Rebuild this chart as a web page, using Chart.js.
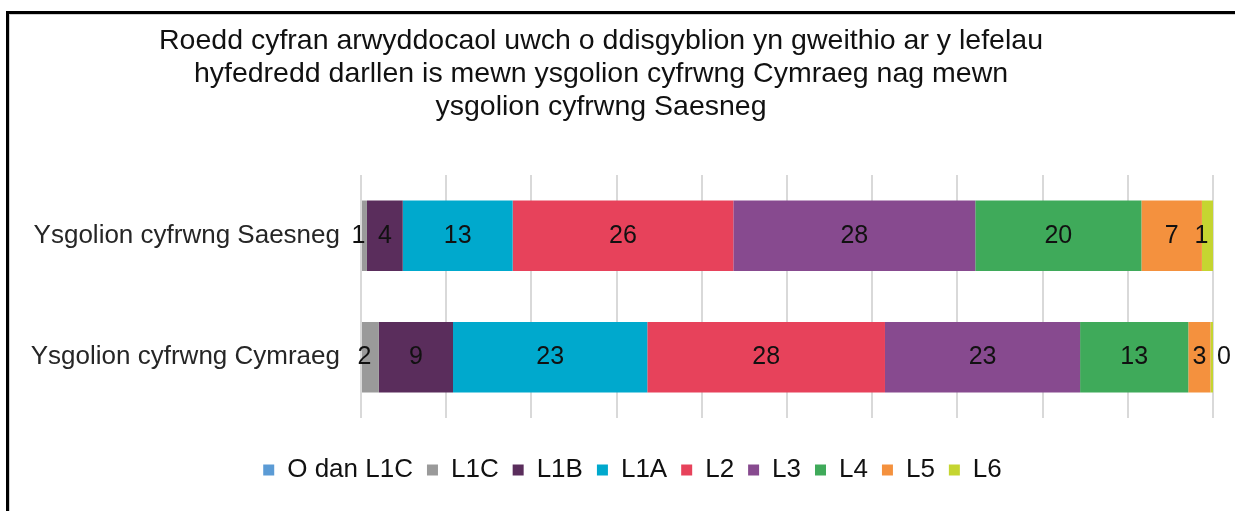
<!DOCTYPE html>
<html>
<head>
<meta charset="utf-8">
<script src="https://cdn.jsdelivr.net/npm/chart.js@4.4.1/dist/chart.umd.min.js"></script>
<style>
    html, body { margin: 0; padding: 0; background: #fff; }
    #wrap { position: relative; width: 1235px; height: 511px; }
</style>
</head>
<body>
<div id="wrap"><canvas id="chart-levels" width="1235" height="511"></canvas></div>
<script>
// ===================== DATA =====================

const titleLines = [
    'Roedd cyfran arwyddocaol uwch o ddisgyblion yn gweithio ar y lefelau',
    'hyfedredd darllen is mewn ysgolion cyfrwng Cymraeg nag mewn',
    'ysgolion cyfrwng Saesneg'
];
const schoolTypes = ['Ysgolion cyfrwng Saesneg', 'Ysgolion cyfrwng Cymraeg'];
const levels      = ['O dan L1C', 'L1C', 'L1B', 'L1A', 'L2', 'L3', 'L4', 'L5', 'L6'];
const levelColors = ['#5b9bd5', '#9a9a9a', '#5a2d5c', '#00a9cd', '#e7425b', '#874a8f', '#3faa5a', '#f4913e', '#c5d531'];

// % of pupils at each level: [Saesneg, Cymraeg]
const oDanL1C = [0.0, 0.0];
const l1c     = [0.7, 2.1];
const l1b     = [4.2, 8.7];
const l1a     = [12.9, 22.8];
const l2      = [25.9, 27.9];
const l3      = [28.4, 22.9];
const l4      = [19.5, 12.7];
const l5      = [7.1, 2.6];
const l6      = [1.3, 0.3];

const levelSeries = [oDanL1C, l1c, l1b, l1a, l2, l3, l4, l5, l6];

const FONT = "'Liberation Sans', Arial, sans-serif";

// ===================== PLUGINS =====================

// frame + centred multi-line title, legend nudged right like the source
const framePlugin = {
    id: 'frame',
    afterLayout(chart) {
        chart.legend.left += 16;
        chart.legend.right += 16;
    },
    beforeDraw(chart) {
        const ctx = chart.ctx;
        ctx.save();
        ctx.fillStyle = '#d0d0d0';
        ctx.fillRect(9, 14, 1, 511);
        ctx.fillRect(9, 14, 1235, 1);
        ctx.fillStyle = '#000';
        ctx.fillRect(6, 11, 3, 511);
        ctx.fillRect(6, 11, 1235, 3);
        ctx.restore();
    },
    afterDraw(chart) {
        const ctx = chart.ctx;
        ctx.save();
        ctx.font = '28.5px ' + FONT;
        ctx.fillStyle = '#111';
        ctx.textAlign = 'center';
        ctx.textBaseline = 'middle';
        titleLines.forEach((line, i) => ctx.fillText(line, 601, 41 + i * 33));
        ctx.restore();
    }
};

// value labels inside the segments (rounded like the source)
const valueLabelPlugin = {
    id: 'valueLabels',
    afterDatasetsDraw(chart) {
        const ctx = chart.ctx;
        ctx.save();
        ctx.font = '25px ' + FONT;
        ctx.fillStyle = '#111';
        ctx.textBaseline = 'middle';
        ctx.textAlign = 'center';
        chart.data.datasets.forEach((ds, di) => {
            if (di === 0) return; // "O dan L1C" carries no label
            chart.getDatasetMeta(di).data.forEach((bar, i) => {
                const { x, y, base } = bar.getProps(['x', 'y', 'base'], true);
                const txt = String(Math.round(ds.data[i]));
                const tw = ctx.measureText(txt).width;
                const w = Math.abs(x - base);
                let cx = (x + base) / 2;
                if (w < 3.5) cx = x + 4 + tw / 2;      // sliver: label outside the bar end
                else if (w < tw + 8) cx -= 6;          // narrow: label nudged left
                ctx.fillText(txt, cx, y);
            });
        });
        ctx.restore();
    }
};

// ===================== CHART =====================

new Chart(document.getElementById('chart-levels'), {
    type: 'bar',
    data: {
        labels: schoolTypes,
        datasets: levels.map((name, i) => ({
            label: name,
            data: levelSeries[i],
            backgroundColor: levelColors[i],
            borderWidth: 0,
            categoryPercentage: 1,
            barPercentage: 0.58
        }))
    },
    options: {
        indexAxis: 'y',
        responsive: false,
        animation: false,
        layout: { padding: { top: 175, left: 20, right: 22, bottom: 18 } },
        plugins: {
            title: { display: false },
            tooltip: { enabled: false },
            legend: {
                position: 'bottom',
                labels: {
                    boxWidth: 11,
                    boxHeight: 11,
                    padding: 14,
                    color: '#111',
                    font: { family: FONT, size: 26 }
                }
            }
        },
        scales: {
            x: {
                stacked: true,
                min: 0,
                max: 100,
                ticks: { display: false, stepSize: 10 },
                grid: { color: '#d9d9d9', lineWidth: 2, drawTicks: false },
                border: { display: false },
                afterFit(scale) { scale.height = 25; }
            },
            y: {
                stacked: true,
                ticks: { color: '#262626', padding: 21, font: { family: FONT, size: 26 } },
                grid: { display: false, drawTicks: false },
                border: { display: false },
                afterFit(scale) { scale.width = 341; }
            }
        }
    },
    plugins: [framePlugin, valueLabelPlugin]
});
</script>
</body>
</html>
